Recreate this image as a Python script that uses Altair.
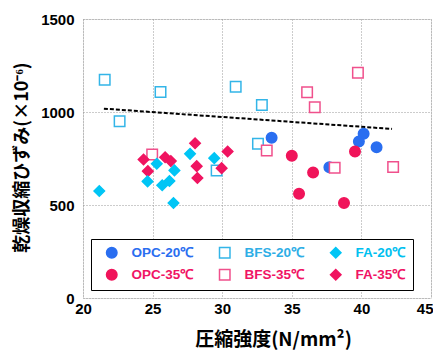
import altair as alt
import pandas as pd

series_order = ["OPC-20℃", "OPC-35℃", "BFS-20℃", "BFS-35℃", "FA-20℃", "FA-35℃"]
draw_order = ["OPC-20℃", "OPC-35℃", "BFS-20℃", "BFS-35℃", "FA-35℃", "FA-20℃"]

opc20_x = [33.55, 40.16, 39.82, 41.09, 37.7]
opc20_y = [861, 883, 841, 811, 703]
opc35_x = [35.0, 36.53, 35.52, 38.75, 39.54]
opc35_y = [765, 675, 561, 511, 788]
bfs20_x = [21.56, 25.57, 22.63, 30.97, 32.85, 32.57, 29.6]
bfs20_y = [1174, 1108, 950, 1136, 1038, 829, 686]
bfs35_x = [39.75, 36.1, 36.65, 33.2, 38.08, 42.28, 24.97]
bfs35_y = [1211, 1106, 1025, 793, 700, 704, 772]
fa20_x = [21.17, 25.3, 24.64, 25.69, 26.21, 26.57, 26.5, 27.69, 29.43]
fa20_y = [575, 722, 627, 606, 629, 686, 511, 775, 752]
fa35_x = [24.35, 24.66, 25.9, 26.31, 28.05, 28.17, 28.22, 29.96, 30.39]
fa35_y = [745, 682, 757, 736, 832, 709, 645, 698, 788]

trend_x = [21.5, 42.2]
trend_y = [1018, 909]

x_ticks = [20, 25, 30, 35, 40, 45]
y_ticks = [0, 500, 1000, 1500]

data_map = {
    "OPC-20℃": (opc20_x, opc20_y),
    "OPC-35℃": (opc35_x, opc35_y),
    "BFS-20℃": (bfs20_x, bfs20_y),
    "BFS-35℃": (bfs35_x, bfs35_y),
    "FA-20℃": (fa20_x, fa20_y),
    "FA-35℃": (fa35_x, fa35_y),
}
rows = []
for name in draw_order:
    xs, ys = data_map[name]
    for x, y in zip(xs, ys):
        rows.append({"series": name, "strength": x, "shrink": y})
df = pd.DataFrame(rows)
trend_df = pd.DataFrame({"strength": trend_x, "shrink": trend_y})

stroke_colors = ["#2a6ef0", "#f0145a", "#33b5e8", "#f0508c", "#00c5f5", "#f01460"]
fill_colors = ["#2a6ef0", "#f0145a", "white", "white", "#00c5f5", "#f01460"]
shapes = ["circle", "circle", "square", "square", "diamond", "diamond"]
sizes = [110, 110, 90, 90, 140, 140]

label_expr = ("datum.label == 'OPC-20℃' ? '#2a6ef0' : datum.label == 'BFS-20℃' ? '#2eaee6' : "
              "datum.label == 'FA-20℃' ? '#00c0f0' : '#f01464'")

legend = alt.Legend(
    title=" ", titleOrient="left", titlePadding=7, titleFontSize=13,
    orient="none", legendX=8, legendY=220, columns=3,
    strokeColor="black", fillColor="white", padding=7,
    columnPadding=22, rowPadding=5, labelOffset=13,
    symbolStrokeWidth=1.5,
    labelFont="Liberation Sans", labelFontWeight="bold", labelFontSize=13.5,
    labelColor={"expr": label_expr},
)

x_enc = alt.X("strength:Q", scale=alt.Scale(domain=[20, 45], nice=False),
              axis=alt.Axis(values=x_ticks, format="d", grid=True, gridDash=[1, 2], gridColor="#999999",
                            domain=False, ticks=False, labelFont="Liberation Sans",
                            labelFontWeight="bold", labelFontSize=15, labelColor="black",
                            labelPadding=3,
                            labelAlign=alt.condition("datum.value == 45", alt.value("right"), alt.value("center")),
                            labelOffset=alt.condition("datum.value == 45", alt.value(2), alt.value(0)),
                            title="圧縮強度(N/mm²)", titleFont="Noto Sans CJK JP",
                            titleFontSize=19, titleFontWeight="bold", titleColor="black",
                            titleX=190, titleY=41, titleBaseline="middle"))
y_enc = alt.Y("shrink:Q", scale=alt.Scale(domain=[0, 1500], nice=False),
              axis=alt.Axis(values=y_ticks, format="d", grid=True, gridDash=[1, 2], gridColor="#999999",
                            domain=False, ticks=False, labelFont="Liberation Sans",
                            labelFontWeight="bold", labelFontSize=15, labelColor="black",
                            labelPadding=9, title="乾燥収縮ひずみ(×10⁻⁶)", titleFont="Noto Sans CJK JP",
                            titleFontSize=18, titleFontWeight="bold", titleColor="black",
                            titleX=-61, titleY=138, titleBaseline="middle"))

points = alt.Chart(df).mark_point(opacity=1, strokeWidth=1.5).encode(
    x=x_enc,
    y=y_enc,
    shape=alt.Shape("series:N", scale=alt.Scale(domain=series_order, range=shapes), legend=legend),
    stroke=alt.Stroke("series:N", scale=alt.Scale(domain=series_order, range=stroke_colors), legend=legend),
    fill=alt.Fill("series:N", scale=alt.Scale(domain=series_order, range=fill_colors), legend=legend),
    size=alt.Size("series:N", scale=alt.Scale(domain=series_order, range=sizes), legend=legend),
)

trend = alt.Chart(trend_df).mark_line(color="black", strokeDash=[4, 2], strokeWidth=2).encode(
    x="strength:Q", y="shrink:Q"
)

chart = alt.layer(trend, points).properties(
    width=348, height=279,
    autosize=alt.AutoSizeParams(type="none"),
    padding={"left": 75, "top": 11, "right": 2, "bottom": 54},
).configure_view(stroke="black", strokeWidth=3).configure(background="white")

chart.save("out.html", embed_options={"renderer": "svg", "actions": False})
